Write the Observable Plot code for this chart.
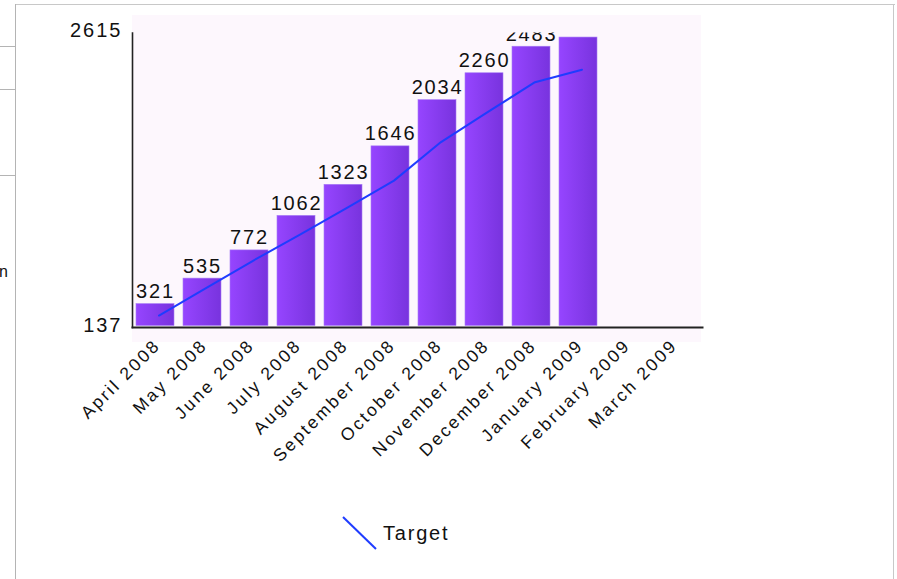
<!DOCTYPE html>
<html>
<head>
<meta charset="utf-8">
<script src="https://cdn.jsdelivr.net/npm/d3@7"></script>
<script src="https://cdn.jsdelivr.net/npm/@observablehq/plot@0.6"></script>
<style>
  html, body { margin: 0; padding: 0; background: #fff; width: 897px; height: 579px; overflow: hidden; }
  #wrap { position: relative; width: 897px; height: 579px; font-family: "Liberation Sans", Arial, sans-serif; }
  .ln { position: absolute; background: #c8c8c8; }
  #bg { position: absolute; left: 132px; top: 15px; width: 569px; height: 327px; background: #fdf7fd; }
  #chart { position: absolute; left: 0; top: 0; }
  #chart g[aria-label="x-axis tick label"] text { letter-spacing: 2.5px; }
  #chart g[aria-label="y-axis tick label"] text { letter-spacing: 2px; }
  #chart g[aria-label="text"] text { letter-spacing: 1.8px; }
  #legend { position: absolute; left: 341px; top: 514px; display: flex; align-items: center; }
  #legend span { font-size: 20px; letter-spacing: 1.8px; color: #111; margin-left: 4px; margin-top: 2px; }
  #frag { position: absolute; left: -1px; top: 263px; font-size: 16px; color: #111; }
</style>
</head>
<body>
<div id="wrap">
  <div class="ln" style="left:15px; top:4px; width:880px; height:1px;"></div>
  <div class="ln" style="left:15px; top:4px; width:1px; height:575px; background:#b4b4b4;"></div>
  <div class="ln" style="left:893px; top:4px; width:1px; height:575px;"></div>
  <div class="ln" style="left:0; top:46px; width:15px; height:1px; background:#b4b4b4;"></div>
  <div class="ln" style="left:0; top:89px; width:15px; height:1px; background:#b4b4b4;"></div>
  <div class="ln" style="left:0; top:175px; width:15px; height:1px; background:#b4b4b4;"></div>
  <div id="frag">n</div>
  <div id="bg"></div>
  <div id="chart"></div>
  <div id="legend">
    <svg width="38" height="36"><line x1="2" y1="3" x2="35" y2="35" stroke="#1f3cff" stroke-width="2"/></svg>
    <span>Target</span>
  </div>
</div>
<script>
const months = ["April 2008", "May 2008", "June 2008", "July 2008", "August 2008", "September 2008",
  "October 2008", "November 2008", "December 2008", "January 2009", "February 2009", "March 2009"];
const actual = [321, 535, 772, 1062, 1323, 1646, 2034, 2260, 2483, 2560];
const target = [225, 455, 685, 905, 1130, 1358, 1682, 1935, 2185, 2290];
const yTicks = [137, 2615];

const bars = actual.map((v, i) => ({month: months[i], value: v}));
const targetLine = target.map((v, i) => ({month: months[i], value: v}));

const chart = Plot.plot({
  width: 897,
  height: 500,
  marginLeft: 132,
  marginRight: 195,
  marginTop: 32.5,
  marginBottom: 173,
  style: {background: "transparent", fontFamily: "'Liberation Sans', Arial, sans-serif", color: "#111"},
  x: {domain: months, range: [133, 694], paddingInner: 0.19, paddingOuter: 0, label: null},
  y: {domain: [137, 2615], range: [325.5, 30.5], label: null},
  marks: [
    () => {
      const ns = "http://www.w3.org/2000/svg";
      const defs = document.createElementNS(ns, "defs");
      defs.innerHTML = `<linearGradient id="barGrad" x1="0" x2="1" y1="0" y2="0">
        <stop offset="0" stop-color="#9645ff"/><stop offset="1" stop-color="#7833de"/></linearGradient>`;
      return defs;
    },
    Plot.barY(bars, {x: "month", y1: 137, y2: "value", fill: "url(#barGrad)", stroke: "#a77cf5", strokeWidth: 0.6}),
    Plot.line(targetLine, {x: "month", y: "value", stroke: "#1f3cff", strokeWidth: 2, dx: 3.5}),
    Plot.text(bars, {x: "month", y: "value", text: d => String(d.value), lineAnchor: "bottom", dy: -6, fontSize: 20, fill: "#111", clip: true}),
    Plot.axisY({ticks: yTicks, tickSize: 0, tickPadding: 10, fontSize: 20, tickFormat: d => String(d)}),
    Plot.axisX({tickSize: 0, tickPadding: 15, tickRotate: -45, fontSize: 17.5, dx: 2}),
    Plot.frame({anchor: "left", stroke: "#222", strokeWidth: 1.6}),
    Plot.frame({anchor: "bottom", stroke: "#222", strokeWidth: 2})
  ]
});
document.getElementById("chart").appendChild(chart);
</script>
</body>
</html>
